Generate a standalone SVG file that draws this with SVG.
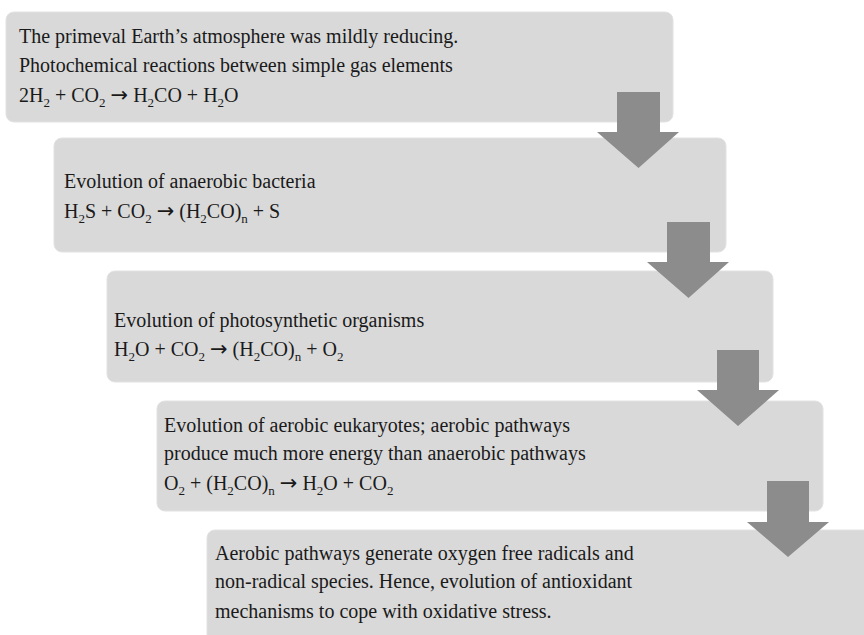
<svg xmlns="http://www.w3.org/2000/svg" width="864" height="635" viewBox="0 0 864 635">
<style>
.box{fill:#d9d9d9;stroke:#e2e2e2;stroke-width:1}
.t{font-family:"Liberation Serif","Times New Roman",serif;font-size:20px;fill:#1a1a1a}
.s{font-size:13px}
.a{font-family:"DejaVu Sans",sans-serif;font-size:21px}
.arr{fill:#8c8c8c}
</style>
<rect width="864" height="635" fill="#ffffff"/>
<g id="node1">
<rect class="box" x="6" y="12" width="667" height="110" rx="8"/>
<text class="t" x="19" y="43">The primeval Earth’s atmosphere was mildly reducing.</text>
<text class="t" x="19" y="72">Photochemical reactions between simple gas elements</text>
<text class="t" x="19" y="102">2H<tspan class="s" dy="5">2</tspan><tspan dy="-5"> + CO</tspan><tspan class="s" dy="5">2</tspan><tspan dy="-5">&#160;</tspan><tspan class="a">→</tspan><tspan>&#160;H</tspan><tspan class="s" dy="5">2</tspan><tspan dy="-5">CO + H</tspan><tspan class="s" dy="5">2</tspan><tspan dy="-5">O</tspan></text>
</g>
<g id="node2">
<rect class="box" x="54" y="138" width="672" height="114" rx="8"/>
<text class="t" x="64" y="188">Evolution of anaerobic bacteria</text>
<text class="t" x="64" y="218">H<tspan class="s" dy="5">2</tspan><tspan dy="-5">S + CO</tspan><tspan class="s" dy="5">2</tspan><tspan dy="-5">&#160;</tspan><tspan class="a">→</tspan><tspan>&#160;(H</tspan><tspan class="s" dy="5">2</tspan><tspan dy="-5">CO)</tspan><tspan class="s" dy="5">n</tspan><tspan dy="-5"> + S</tspan></text>
</g>
<g id="node3">
<rect class="box" x="107" y="271" width="666" height="111" rx="8"/>
<text class="t" x="114" y="327">Evolution of photosynthetic organisms</text>
<text class="t" x="114" y="356">H<tspan class="s" dy="5">2</tspan><tspan dy="-5">O + CO</tspan><tspan class="s" dy="5">2</tspan><tspan dy="-5">&#160;</tspan><tspan class="a">→</tspan><tspan>&#160;(H</tspan><tspan class="s" dy="5">2</tspan><tspan dy="-5">CO)</tspan><tspan class="s" dy="5">n</tspan><tspan dy="-5"> + O</tspan><tspan class="s" dy="5">2</tspan></text>
</g>
<g id="node4">
<rect class="box" x="157" y="401" width="666" height="110" rx="8"/>
<text class="t" x="164" y="432">Evolution of aerobic eukaryotes; aerobic pathways</text>
<text class="t" x="164" y="460">produce much more energy than anaerobic pathways</text>
<text class="t" x="164" y="490">O<tspan class="s" dy="5">2</tspan><tspan dy="-5"> + (H</tspan><tspan class="s" dy="5">2</tspan><tspan dy="-5">CO)</tspan><tspan class="s" dy="5">n</tspan><tspan dy="-5">&#160;</tspan><tspan class="a">→</tspan><tspan>&#160;H</tspan><tspan class="s" dy="5">2</tspan><tspan dy="-5">O + CO</tspan><tspan class="s" dy="5">2</tspan></text>
</g>
<g id="node5">
<rect class="box" x="207" y="530" width="690" height="130" rx="8"/>
<text class="t" x="215" y="560">Aerobic pathways generate oxygen free radicals and</text>
<text class="t" x="215" y="588">non-radical species. Hence, evolution of antioxidant</text>
<text class="t" x="215" y="618">mechanisms to cope with oxidative stress.</text>
</g>
<g id="connectors">
<polygon class="arr" points="617,92 660,92 660,132 679,132 638.5,168 597,132 617,132"/>
<polygon class="arr" points="667,222 710,222 710,262 729,262 688.5,298 647,262 667,262"/>
<polygon class="arr" points="717,350 759,350 759,390 779,390 738,426 697,390 717,390"/>
<polygon class="arr" points="767,481 809,481 809,522 829,522 788,557 747,522 767,522"/>
</g>
</svg>
